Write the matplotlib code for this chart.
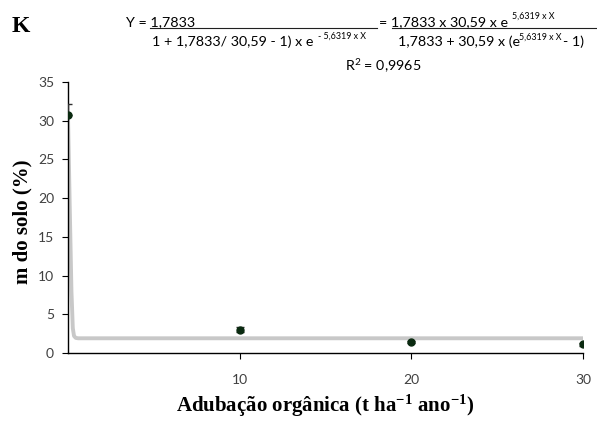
import matplotlib
matplotlib.use("Agg")
import matplotlib.pyplot as plt
from matplotlib.lines import Line2D

# ===========================================================
# Données
# ===========================================================
doses = [0, 10, 20, 30]
m_solo = [30.8, 3.0, 1.4, 1.1]
erro_bas = [0.0, 0.35, 0.15, 0.15]
erro_haut = [1.4, 0.35, 0.15, 0.15]

# courbe ajustée
curve_x = [0, 0.1, 0.2, 0.28, 0.35, 0.45, 0.6, 30]
curve_y = [30.6, 19.0, 8.0, 3.2, 2.2, 1.95, 1.9, 1.9]

x_ticks = [10, 20, 30]
y_ticks = [0, 5, 10, 15, 20, 25, 30, 35]

W, H = 597, 432


def px(x, y):
    return x / W, 1 - y / H


plt.rcParams["mathtext.fontset"] = "custom"
plt.rcParams["mathtext.rm"] = "Lato"
plt.rcParams["mathtext.it"] = "Lato"
plt.rcParams["mathtext.bf"] = "Liberation Serif:bold"

fig = plt.figure(figsize=(W / 100, H / 100), dpi=100)
ax = fig.add_axes([68 / W, 1 - 353 / H, (583 - 68) / W, (353 - 82) / H])

ax.plot(curve_x, curve_y, color="#c8c8c8", lw=2.8, solid_capstyle="butt", zorder=2)
ax.errorbar(doses, m_solo, yerr=[erro_bas, erro_haut], fmt="o", color="#0a2a10", ms=5,
            ecolor="#303030", elinewidth=1, capsize=3, zorder=3)

ax.set_xlim(0, 30)
ax.set_ylim(0, 35)
ax.set_xticks(x_ticks)
ax.set_yticks(y_ticks)
ax.tick_params(direction="out", length=4, color="black", labelsize=10,
               labelcolor="#404040")
ax.tick_params(axis="x", pad=11)
ax.tick_params(axis="y", pad=6)
for s in ["top", "right"]:
    ax.spines[s].set_visible(False)
for s in ["left", "bottom"]:
    ax.spines[s].set_color("black")
    ax.spines[s].set_linewidth(1)
for lab in ax.get_xticklabels() + ax.get_yticklabels():
    lab.set_family("Lato")

# Titres des axes
fig.text(*px(325, 406), "Adubação orgânica (t ha$^{\\mathbf{-1}}$ ano$^{\\mathbf{-1}}$)",
         family="Liberation Serif", fontweight="bold", fontsize=15,
         ha="center", va="center")
fig.text(*px(22, 222), "m do solo (%)", family="Liberation Serif", fontweight="bold",
         fontsize=15, rotation=90, ha="center", va="center")

# ===========================================================
# Équation
# ===========================================================
fs = 10.3
fs_sup = 6.4
fig.text(*px(12, 26), "K", family="Liberation Serif", fontweight="bold",
         fontsize=17, va="center")
fig.text(*px(126, 22), "Y = 1,7833", family="Lato", fontsize=fs, va="center")
fig.text(*px(152, 42), "1 + 1,7833/ 30,59 - 1) x e", family="Lato", fontsize=fs, va="center")
fig.text(*px(318, 36), "- 5,6319 x X", family="Lato", fontsize=fs_sup, va="center")
fig.text(*px(379, 22), "= 1,7833 x 30,59 x e", family="Lato", fontsize=fs, va="center")
fig.text(*px(512, 16), "5,6319 x X", family="Lato", fontsize=fs_sup, va="center")
fig.text(*px(398, 42), "1,7833 + 30,59 x (e", family="Lato", fontsize=fs, va="center")
fig.text(*px(519, 37), "5,6319 x X", family="Lato", fontsize=fs_sup, va="center")
fig.text(*px(563, 42), "- 1)", family="Lato", fontsize=fs, va="center")
fig.add_artist(Line2D([150 / W, 377 / W], [1 - 28 / H] * 2, color="#202020", lw=0.8))
fig.add_artist(Line2D([392 / W, 597 / W], [1 - 28 / H] * 2, color="#202020", lw=0.8))
fig.text(*px(345, 66), "R$^2$ = 0,9965", family="Lato", fontsize=fs, va="center")

fig.savefig("out.png", dpi=100)
